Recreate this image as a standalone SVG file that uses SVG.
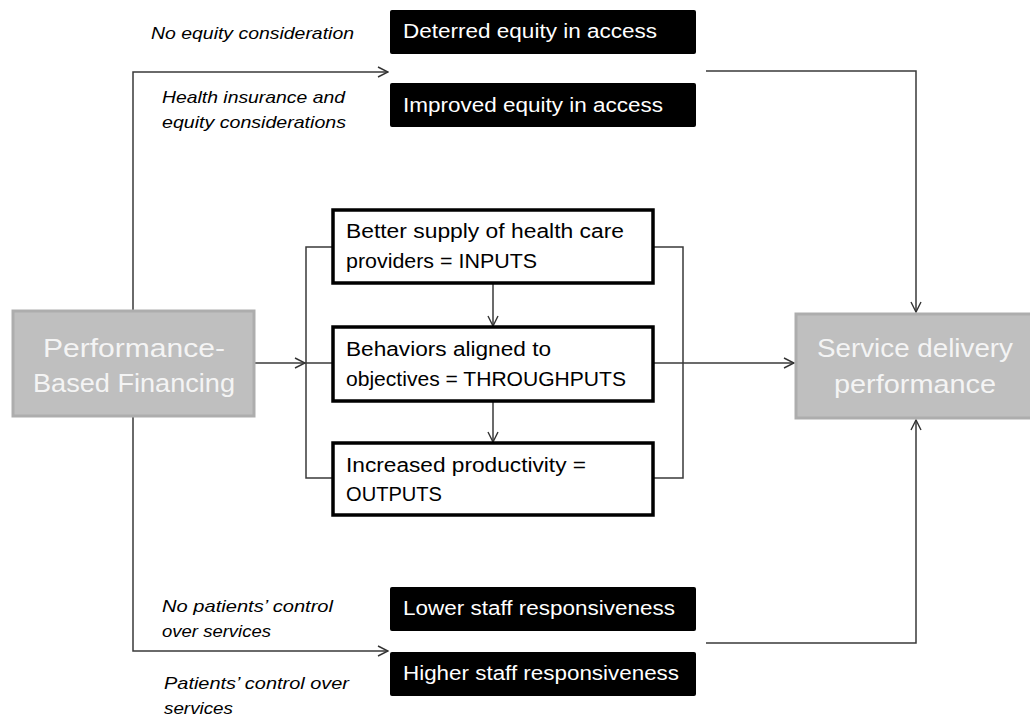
<svg xmlns="http://www.w3.org/2000/svg" width="1030" height="717" viewBox="0 0 1030 717">
  <defs>
    <marker id="open-arrow" viewBox="0 0 12 12" refX="11" refY="6" markerWidth="12" markerHeight="12" markerUnits="userSpaceOnUse" orient="auto">
      <path d="M1,1 L11,6 L1,11" fill="none" stroke="#333" stroke-width="1.4"/>
    </marker>
    <style>
      .link { fill: none; stroke: #3a3a3a; stroke-width: 1.5; }
      .dark { fill: #000; }
      .dark-text { fill: #fff; font-family: "Liberation Sans", Arial, sans-serif; font-size: 20px; }
      .grey { fill: #bfbfbf; stroke: #adadad; stroke-width: 3; }
      .grey-text { fill: #f4f4f4; font-family: "Liberation Sans", Arial, sans-serif; font-size: 25px; text-anchor: middle; }
      .stage { fill: #fff; stroke: #000; stroke-width: 3.5; }
      .stage-text { fill: #000; font-family: "Liberation Sans", Arial, sans-serif; font-size: 20px; }
      .note { fill: #000; font-family: "Liberation Sans", Arial, sans-serif; font-size: 17px; font-style: italic; }
    </style>
  </defs>

  <!-- connectors -->
  <g id="connectors">
    <!-- PBF up and down to the two branches -->
    <polyline class="link" points="133,310 133,72 388,72" marker-end="url(#open-arrow)"/>
    <polyline class="link" points="133,417 133,651 388,651" marker-end="url(#open-arrow)"/>
    <!-- PBF into the stage bracket -->
    <line class="link" x1="255" y1="363" x2="305" y2="363" marker-end="url(#open-arrow)"/>
    <!-- left bracket -->
    <polyline class="link" points="333,247 306,247 306,478 333,478"/>
    <line class="link" x1="305" y1="363" x2="333" y2="363"/>
    <!-- right bracket -->
    <polyline class="link" points="653,247 683,247 683,478 653,478"/>
    <!-- stage to stage -->
    <line class="link" x1="493" y1="283" x2="493" y2="326" marker-end="url(#open-arrow)"/>
    <line class="link" x1="493" y1="401" x2="493" y2="442" marker-end="url(#open-arrow)"/>
    <!-- throughputs to service delivery -->
    <line class="link" x1="653" y1="363" x2="794" y2="363" marker-end="url(#open-arrow)"/>
    <!-- equity branch to service delivery -->
    <polyline class="link" points="706,71 916,71 916,312" marker-end="url(#open-arrow)"/>
    <!-- responsiveness branch to service delivery -->
    <polyline class="link" points="706,643 916,643 916,420" marker-end="url(#open-arrow)"/>
  </g>

  <!-- branch labels -->
  <g id="labels">
    <text class="note" x="151" y="39" textLength="203" lengthAdjust="spacingAndGlyphs">No equity consideration</text>
    <text class="note" x="162" y="103" textLength="183" lengthAdjust="spacingAndGlyphs">Health insurance and</text>
    <text class="note" x="162" y="128" textLength="184" lengthAdjust="spacingAndGlyphs">equity considerations</text>
    <text class="note" x="162" y="612" textLength="171" lengthAdjust="spacingAndGlyphs">No patients’ control</text>
    <text class="note" x="162" y="637" textLength="109" lengthAdjust="spacingAndGlyphs">over services</text>
    <text class="note" x="164" y="689" textLength="185" lengthAdjust="spacingAndGlyphs">Patients’ control over</text>
    <text class="note" x="164" y="714" textLength="69" lengthAdjust="spacingAndGlyphs">services</text>
  </g>

  <!-- outcome boxes -->
  <g id="deterred-equity">
    <rect class="dark" x="390" y="10" width="306" height="44" rx="2"/>
    <text class="dark-text" x="403" y="38" textLength="254" lengthAdjust="spacingAndGlyphs">Deterred equity in access</text>
  </g>
  <g id="improved-equity">
    <rect class="dark" x="390" y="83" width="306" height="44" rx="2"/>
    <text class="dark-text" x="403" y="112" textLength="260" lengthAdjust="spacingAndGlyphs">Improved equity in access</text>
  </g>
  <g id="lower-responsiveness">
    <rect class="dark" x="390" y="587" width="306" height="44" rx="2"/>
    <text class="dark-text" x="403" y="615" textLength="272" lengthAdjust="spacingAndGlyphs">Lower staff responsiveness</text>
  </g>
  <g id="higher-responsiveness">
    <rect class="dark" x="390" y="652" width="306" height="44" rx="2"/>
    <text class="dark-text" x="403" y="680" textLength="276" lengthAdjust="spacingAndGlyphs">Higher staff responsiveness</text>
  </g>

  <!-- main nodes -->
  <g id="pbf">
    <rect class="grey" x="13" y="311" width="241" height="105"/>
    <text class="grey-text" x="134" y="357" textLength="182" lengthAdjust="spacingAndGlyphs">Performance-</text>
    <text class="grey-text" x="134" y="392" textLength="202" lengthAdjust="spacingAndGlyphs">Based Financing</text>
  </g>
  <g id="service-delivery">
    <rect class="grey" x="796" y="314" width="240" height="104"/>
    <text class="grey-text" x="915" y="357" textLength="196" lengthAdjust="spacingAndGlyphs">Service delivery</text>
    <text class="grey-text" x="915" y="393" textLength="162" lengthAdjust="spacingAndGlyphs">performance</text>
  </g>

  <!-- stages -->
  <g id="inputs">
    <rect class="stage" x="333" y="210" width="320" height="73"/>
    <text class="stage-text" x="346" y="238" textLength="278" lengthAdjust="spacingAndGlyphs">Better supply of health care</text>
    <text class="stage-text" x="346" y="268" textLength="191" lengthAdjust="spacingAndGlyphs">providers = INPUTS</text>
  </g>
  <g id="throughputs">
    <rect class="stage" x="333" y="327" width="320" height="74"/>
    <text class="stage-text" x="346" y="356" textLength="205" lengthAdjust="spacingAndGlyphs">Behaviors aligned to</text>
    <text class="stage-text" x="346" y="386" textLength="280" lengthAdjust="spacingAndGlyphs">objectives = THROUGHPUTS</text>
  </g>
  <g id="outputs">
    <rect class="stage" x="333" y="443" width="320" height="72"/>
    <text class="stage-text" x="346" y="472" textLength="240" lengthAdjust="spacingAndGlyphs">Increased productivity =</text>
    <text class="stage-text" x="346" y="501" textLength="96" lengthAdjust="spacingAndGlyphs">OUTPUTS</text>
  </g>
</svg>
